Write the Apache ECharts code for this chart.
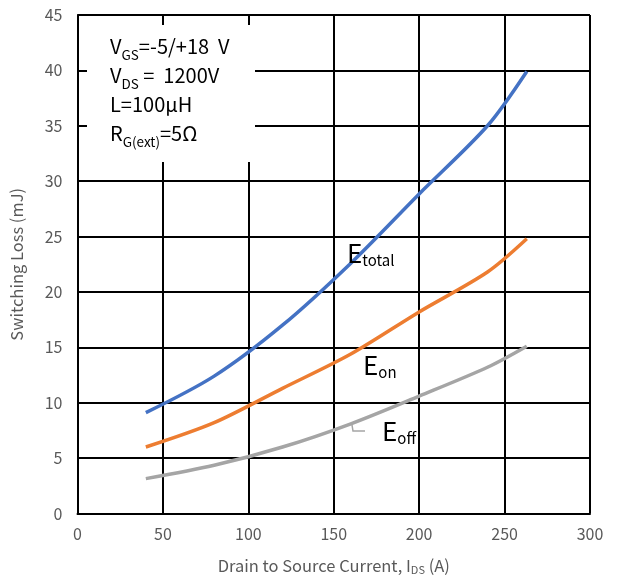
<!DOCTYPE html>
<html>
<head>
<meta charset="utf-8">
<script src="https://cdn.jsdelivr.net/npm/echarts@6/dist/echarts.min.js"></script>
<style>html,body{margin:0;padding:0;background:#fff;}#c{width:619px;height:580px;}</style>
</head>
<body>
<div id="c"></div>
<script>
const xTicks = [0, 50, 100, 150, 200, 250, 300];
const yTicks = [0, 5, 10, 15, 20, 25, 30, 35, 40, 45];
const currents = [40, 80, 120, 160, 200, 240, 263];
const eTotal = [9.1, 12.4, 17.0, 22.6, 28.85, 35.0, 39.9];
const eOn    = [6.0, 8.2, 11.3, 14.4, 18.2, 21.8, 24.8];
const eOff   = [3.15, 4.35, 6.0, 8.1, 10.6, 13.2, 15.1];
const seriesNames = ['Etotal', 'Eon', 'Eoff'];

const FONT = '"Noto Sans CJK SC", "Noto Sans", sans-serif';
const chart = echarts.init(document.getElementById('c'), null, {renderer: 'canvas'});

function pairs(ys) { return currents.map((x, i) => [x, ys[i]]); }

const sub = {fontFamily: FONT, fontSize: 13.5, color: '#000', verticalAlign: 'bottom', padding: [0, 0, -1, 0], lineHeight: 29};
const main = {fontFamily: FONT, fontSize: 20, color: '#000', lineHeight: 29};
const lblE = {fontFamily: FONT, fontSize: 26, color: '#595959'};
const lblS = {fontFamily: FONT, fontSize: 15, color: '#595959', verticalAlign: 'bottom', padding: [0, 0, -2, 0]};

chart.setOption({
  animation: false,
  backgroundColor: '#fff',
  grid: {left: 77, right: 29, top: 15, bottom: 64, containLabel: false},
  xAxis: {
    type: 'value', min: xTicks[0], max: xTicks[xTicks.length - 1], interval: 50,
    axisLine: {show: true, lineStyle: {color: '#000', width: 2}},
    axisTick: {show: false},
    splitLine: {show: true, lineStyle: {color: '#000', width: 2}},
    axisLabel: {color: '#595959', fontSize: 16, fontFamily: FONT, margin: 12},
    name: '{a|Drain to Source Current, I}{s|DS}{a| (A)}',
    nameLocation: 'middle', nameGap: 44,
    nameTextStyle: {rich: {
      a: {fontFamily: FONT, fontSize: 16.5, color: '#595959'},
      s: {fontFamily: FONT, fontSize: 11, color: '#595959', verticalAlign: 'bottom', padding: [0, 0, -1, 0]}
    }}
  },
  yAxis: {
    type: 'value', min: yTicks[0], max: yTicks[yTicks.length - 1], interval: 5,
    axisLine: {show: true, lineStyle: {color: '#000', width: 2}},
    axisTick: {show: false},
    splitLine: {show: true, lineStyle: {color: '#000', width: 2}},
    axisLabel: {color: '#595959', fontSize: 16, fontFamily: FONT, margin: 15},
    name: 'Switching Loss (mJ)', nameLocation: 'middle', nameGap: 53,
    nameTextStyle: {color: '#595959', fontSize: 16.5, fontFamily: FONT}
  },
  series: [
    {name: seriesNames[0], type: 'line', data: pairs(eTotal), smooth: 0.3, showSymbol: false,
     lineStyle: {color: '#4472C4', width: 3.5}, z: 5},
    {name: seriesNames[1], type: 'line', data: pairs(eOn), smooth: 0.3, showSymbol: false,
     lineStyle: {color: '#ED7D31', width: 3.5}, z: 5},
    {name: seriesNames[2], type: 'line', data: pairs(eOff), smooth: 0.3, showSymbol: false,
     lineStyle: {color: '#A5A5A5', width: 3.5}, z: 5}
  ],
  graphic: [
    {type: 'rect', left: 87, top: 25, shape: {width: 168, height: 137}, style: {fill: '#fff'}, z: 10},
    {type: 'text', left: 110, top: 36, z: 11, style: {
      text: '{m|V}{s|GS}{m|=-5/+18  V}\n{m|V}{s|DS}{m| =  1200V}\n{m|L=100μH}\n{m|R}{s|G(ext)}{m|=5Ω}',
      rich: {m: main, s: sub}
    }},
    {type: 'text', left: 347, top: 240, z: 11, style: {text: '{e|E}{t|total}', rich: {e: lblE, t: lblS}}},
    {type: 'text', left: 363, top: 352, z: 11, style: {text: '{e|E}{t|on}', rich: {e: lblE, t: lblS}}},
    {type: 'text', left: 382, top: 418, z: 11, style: {text: '{e|E}{t|off}', rich: {e: lblE, t: lblS}}},
    {type: 'polyline', z: 11, shape: {points: [[352, 425], [353, 431], [365, 431]]},
     style: {stroke: '#A5A5A5', lineWidth: 1.5, fill: null}}
  ]
});
</script>
</body>
</html>
